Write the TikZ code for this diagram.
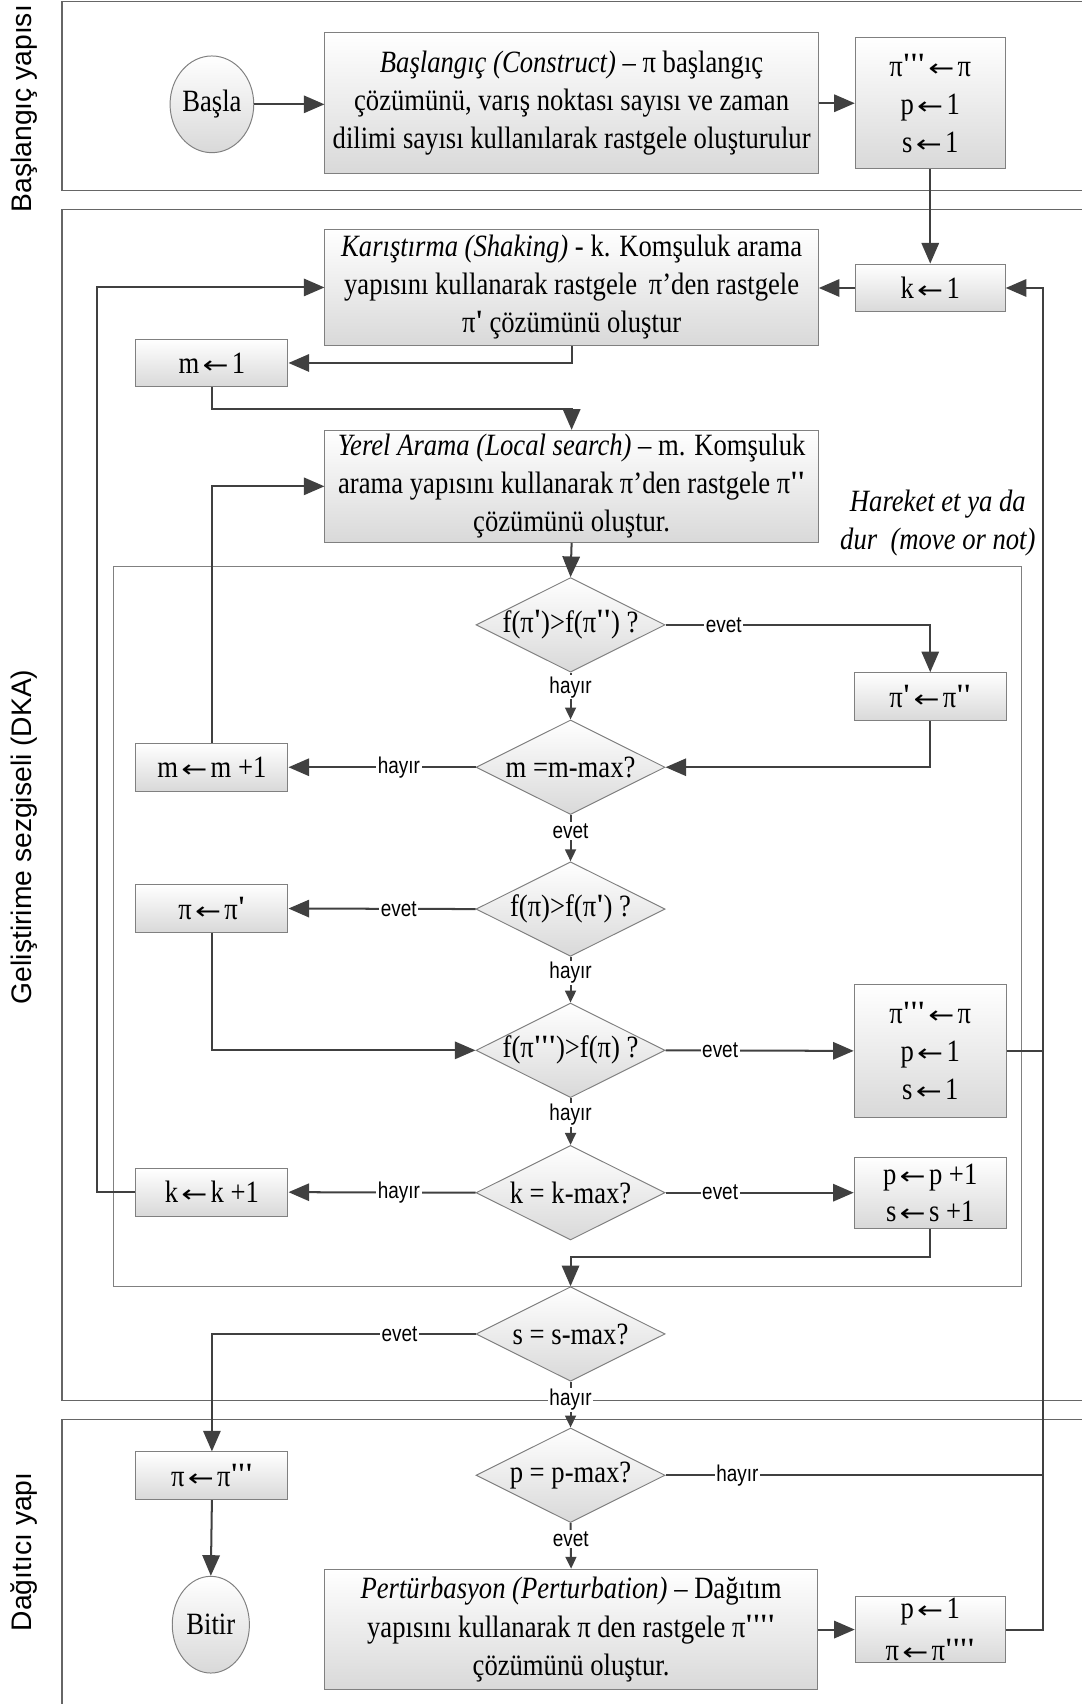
\documentclass[tikz,border=0pt]{standalone}
\usepackage{fontspec}
\usepackage{graphicx}
\setmainfont{Liberation Serif}[FakeStretch=0.86, Ligatures=TeXOff]
\newfontfamily\lblfont{Liberation Sans}[FakeStretch=0.83, Ligatures=TeXOff]
\newfontfamily\secfont{Liberation Sans}[Ligatures=TeXOff]
\newfontfamily\arrowfont{DejaVu Sans}
\usetikzlibrary{shapes.geometric, arrows.meta}
\definecolor{cline}{HTML}{404040}
\definecolor{bline}{HTML}{808080}
\definecolor{fline}{HTML}{666666}
\newcommand\mainsz{\fontsize{28.5}{35}\selectfont}
\newcommand\la{\kern3pt{\arrowfont\fontsize{26}{26}\selectfont\scalebox{1.1}[0.85]{←}}\kern3pt}
\newcommand\pr[1]{\raisebox{1.5pt}{\bfseries #1}}
\tikzset{
  conn/.style={draw=cline, line width=1.85pt},
  bigarr/.style={-{Triangle[length=19pt,width=16pt]}},
  smallarr/.style={-{Triangle[length=11pt,width=10pt]}},
  shadefill/.style={draw=bline, line width=0.9pt, top color=white, bottom color=black!15},
  box/.style={shadefill, rectangle, inner sep=0pt, align=center, font=\mainsz},
  dia/.style={shadefill, diamond, aspect=2, inner sep=0pt, minimum width=174pt, minimum height=87pt, font=\mainsz},
  ell/.style={shadefill, ellipse, inner sep=0pt, minimum width=71pt, minimum height=89pt, font=\mainsz},
  lbl/.style={fill=white, inner sep=1.5pt, font=\lblfont\fontsize{21}{21}\selectfont},
  frame/.style={draw=fline, line width=1.3pt},
  innerframe/.style={draw=bline, line width=0.9pt},
  sec/.style={rotate=90, font=\secfont\fontsize{26}{26}\selectfont},
}
\begin{document}
\begin{tikzpicture}[x=1pt,y=-1pt]
\useasboundingbox (0,0) rectangle (995,1568);
% section frames
\draw[frame] (1000,1.5) -- (57,1.5) -- (57,175.5) -- (1000,175.5);
\draw[frame] (1000,193) -- (57,193) -- (57,1288.5) -- (1000,1288.5);
\draw[frame] (1000,1306) -- (57,1306) -- (57,1575);
\draw[innerframe] (104.5,521) rectangle (939.5,1184);
\node[sec] (lab1) at (22,100) {Başlangıç yapısı};
\node[sec] (lab2) at (22,770) {Geliştirime sezgiseli (DKA)};
\node[sec] (lab3) at (22,1428) {Dağıtıcı yapı};

% nodes
\node[ell] (basla) at (195,96) {Başla};
\node[box, minimum width=454pt, minimum height=130pt] (init) at (526,95)
  {\textit{Başlangıç (Construct)} – π başlangıç\\ çözümünü, varış noktası sayısı ve zaman\\ dilimi sayısı kullanılarak rastgele oluşturulur};
\node[box, minimum width=138pt, minimum height=121pt] (best1) at (856,95)
  {π\pr{'''}\la π\\ p\la 1\\ s\la 1};
\node[box, minimum width=138pt, minimum height=44pt] (k1) at (856,265) {k\la 1};
\node[box, minimum width=454pt, minimum height=107pt] (shake) at (526,264.5)
  {\textit{Karıştırma (Shaking)} - k. Komşuluk arama\\ yapısını kullanarak rastgele\, π’den rastgele\\ π\pr{'} çözümünü oluştur};
\node[box, minimum width=140pt, minimum height=44pt] (m1) at (195,334) {m\la 1};
\node[box, minimum width=454pt, minimum height=103pt] (yerel) at (526,447.5)
  {\textit{Yerel Arama (Local search)} – m. Komşuluk\\ arama yapısını kullanarak π’den rastgele π\pr{''}\\ çözümünü oluştur.};
\node[align=center, font=\mainsz\itshape, inner sep=0pt] (move) at (863,481)
  {Hareket et ya da\\ dur\ \ (move or not)};

\node[dia] (d1) at (525,575) {\makebox[0pt]{f(π\pr{'})>f(π\pr{''}) ?}};
\node[box, minimum width=140pt, minimum height=44pt] (pp) at (856,641) {π\pr{'}\la π\pr{''}};
\node[dia] (d2) at (525,706) {\makebox[0pt]{m =m-max?}};
\node[box, minimum width=140pt, minimum height=44pt] (mm1) at (195,706) {m\la m +1};
\node[dia] (d3) at (525,836.5) {\makebox[0pt]{f(π)>f(π\pr{'}) ?}};
\node[box, minimum width=140pt, minimum height=44pt] (pip) at (195,836) {π\la π\pr{'}};
\node[dia] (d4) at (525,966.5) {\makebox[0pt]{f(π\pr{'''})>f(π) ?}};
\node[box, minimum width=140pt, minimum height=122pt] (best2) at (856,967)
  {π\pr{'''}\la π\\ p\la 1\\ s\la 1};
\node[dia] (d5) at (525,1097.5) {\makebox[0pt]{k = k-max?}};
\node[box, minimum width=140pt, minimum height=44pt] (kk1) at (195,1097) {k\la k +1};
\node[box, minimum width=140pt, minimum height=65pt] (ps) at (856,1097.5)
  {p\la p +1\\[-1pt] s\la s +1};
\node[dia] (d6) at (525,1227.5) {\makebox[0pt]{s = s-max?}};
\node[box, minimum width=140pt, minimum height=44pt] (pi3) at (195,1358) {π\la π\pr{'''}};
\node[dia] (d7) at (525,1357.5) {\makebox[0pt]{p = p-max?}};
\node[ell] (bitir) at (194,1495) {Bitir};
\node[box, minimum width=453pt, minimum height=111pt] (pert) at (525.5,1499.5)
  {\textit{Pertürbasyon (Perturbation)} – Dağıtım\\ yapısını kullanarak π den rastgele π\pr{''''}\\ çözümünü oluştur.};
\node[box, minimum width=138pt, minimum height=61pt] (p1) at (856,1499.5)
  {p\la 1\\[4pt] π\la π\pr{''''}};

\coordinate (fbtop) at (960,265);
\coordinate (lfb) at (89,1097);

% connectors
\draw[conn,bigarr] (basla.east) -- (init.west |- basla.east);
\draw[conn,bigarr] (init.east) -- (best1.west);
\draw[conn,bigarr] (best1.south) -- (k1.north);
\draw[conn,bigarr] (k1.west) -- (shake.east |- k1.west);
\draw[conn,bigarr] (shake.south) |- (m1.east);
\draw[conn,bigarr] (m1.south) -- ++(0,19.5) -| (yerel.north);
\draw[conn,bigarr] (yerel.south) -- (d1.north);
\draw[conn,bigarr] (d1.east) -| node[lbl,pos=0.11]{evet} (pp.north);
\draw[conn,smallarr] (d1.south) -- node[lbl,pos=0.31]{hayır} (d2.north);
\draw[conn,bigarr] (pp.south) |- (d2.east);
\draw[conn,bigarr] (d2.west) -- node[lbl,pos=0.41]{hayır} (mm1.east);
\draw[conn,bigarr] (mm1.north) |- (yerel.west);
\draw[conn,smallarr] (d2.south) -- node[lbl,pos=0.34]{evet} (d3.north);
\draw[conn,bigarr] (d3.west) -- node[lbl,pos=0.41]{evet} (pip.east);
\draw[conn,smallarr] (d3.south) -- node[lbl,pos=0.35]{hayır} (d4.north);
\draw[conn,bigarr] (pip.south) |- (d4.west);
\draw[conn,bigarr] (d4.east) -- node[lbl,pos=0.29]{evet} (best2.west);
\draw[conn] (best2.east) -- (best2.east -| fbtop);
\draw[conn,smallarr] (d4.south) -- node[lbl,pos=0.36]{hayır} (d5.north);
\draw[conn,bigarr] (d5.west) -- node[lbl,pos=0.41]{hayır} (kk1.east);
\draw[conn,bigarr] (d5.east) -- node[lbl,pos=0.29]{evet} (ps.west);
\draw[conn,bigarr] (kk1.west) -- (lfb) |- (shake.west);
\draw[conn,bigarr] (ps.south) -- ++(0,26) -| (d6.north);
\draw[conn,bigarr] (d6.west) -| node[lbl,pos=0.144]{evet} (pi3.north);
\draw[conn,bigarr] (pert.east) -- (p1.west);
\draw[conn,bigarr] (p1.east) -| (fbtop) -- (k1.east);
\draw[conn] (d7.east) -- node[lbl,pos=0.19]{hayır} (d7.east -| fbtop);
\draw[conn,smallarr] (d7.south) -- node[lbl,pos=0.35]{evet} (pert.north);
\draw[conn,bigarr] (pi3.south) -- (bitir.north);
\draw[conn,smallarr] (d6.south) -- node[lbl,pos=0.4]{hayır} (d7.north);
\end{tikzpicture}
\end{document}
